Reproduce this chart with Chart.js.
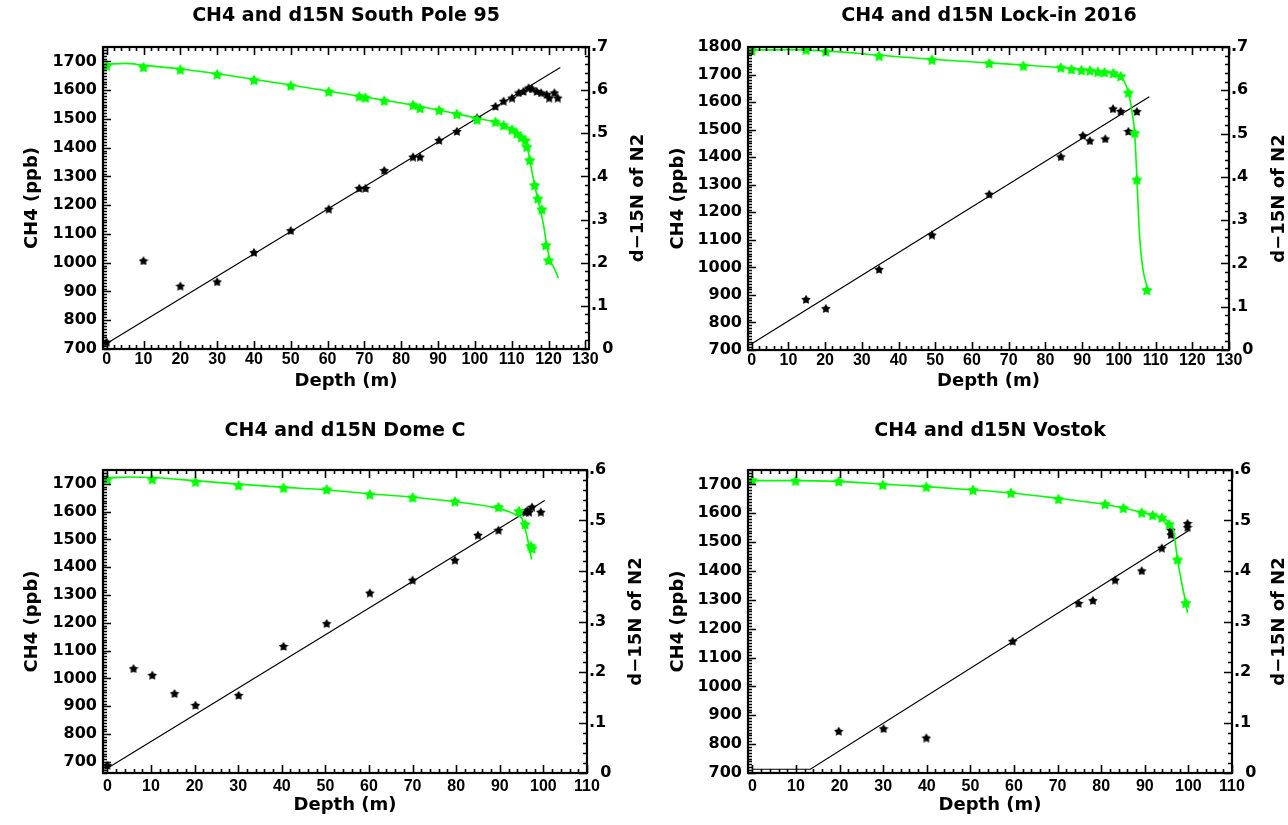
<!DOCTYPE html>
<html>
<head>
<meta charset="utf-8">
<script src="https://cdn.jsdelivr.net/npm/chart.js@4.4.1/dist/chart.umd.min.js"></script>
<style>
  body { margin: 0; background: #fff; width: 1288px; height: 825px; overflow: hidden; position: relative; }
  .panel { position: absolute; }
</style>
</head>
<body>
<div class="panel" style="left:0;top:0"><canvas id="c1" width="692" height="412"></canvas></div>
<div class="panel" style="left:644px;top:0"><canvas id="c2" width="690" height="412"></canvas></div>
<div class="panel" style="left:0;top:412px"><canvas id="c3" width="690" height="413"></canvas></div>
<div class="panel" style="left:644px;top:412px"><canvas id="c4" width="692" height="413"></canvas></div>
<script>
// tick labels
const depthTicks130 = [0, 10, 20, 30, 40, 50, 60, 70, 80, 90, 100, 110, 120, 130];
const depthTicks110 = [0, 10, 20, 30, 40, 50, 60, 70, 80, 90, 100, 110];
const ch4Ticks1700 = [700, 800, 900, 1000, 1100, 1200, 1300, 1400, 1500, 1600, 1700];
const ch4Ticks1800 = [700, 800, 900, 1000, 1100, 1200, 1300, 1400, 1500, 1600, 1700, 1800];
const d15Ticks07 = [0, 0.1, 0.2, 0.3, 0.4, 0.5, 0.6, 0.7];
const d15Ticks06 = [0, 0.1, 0.2, 0.3, 0.4, 0.5, 0.6];

// South Pole 95
const spModelDepth = [0, 5, 10, 20, 30, 40, 50, 60, 70, 80, 90, 100, 105, 108, 110, 112, 113.7, 114.3, 115, 116, 117, 118, 118.8, 119.5, 120.5, 121.5, 122.7];
const spModelN = [0.660, 0.662, 0.658, 0.649, 0.638, 0.625, 0.612, 0.598, 0.584, 0.570, 0.554, 0.536, 0.527, 0.518, 0.510, 0.495, 0.484, 0.465, 0.435, 0.390, 0.350, 0.315, 0.280, 0.240, 0.205, 0.188, 0.164];
const spDepthN = [0, 10, 20, 30, 40, 50, 60.3, 68.6, 70.3, 75.4, 83.2, 85.1, 90.3, 95.1, 100.6, 105.6, 107.8, 110.1, 111.4, 112.6, 113.7, 114.1, 114.9, 116.2, 117.1, 118.2, 119.3, 120];
const spN = [0.657, 0.654, 0.648, 0.637, 0.624, 0.611, 0.597, 0.586, 0.583, 0.576, 0.566, 0.559, 0.554, 0.545, 0.532, 0.527, 0.519, 0.509, 0.500, 0.491, 0.484, 0.469, 0.438, 0.380, 0.349, 0.324, 0.241, 0.206];
const spDepthCH4 = [0, 10, 20, 30, 40, 50, 60.3, 68.6, 70.3, 75.4, 83.2, 85.1, 90.3, 95.1, 100.6, 105.6, 107.8, 110.1, 111.9, 113.2, 114.6, 115.5, 116.8, 118, 119.5, 120.2, 121.6, 122.5];
const spCH4 = [725, 1008, 920, 935, 1037, 1113, 1188, 1260, 1260, 1322, 1369, 1369, 1427, 1458, 1505, 1545, 1563, 1574, 1592, 1597, 1609, 1606, 1597, 1592, 1586, 1574, 1592, 1574];
const spFitDepth = [0, 123.2];
const spFitCH4 = [719, 1679];

// Lock-in 2016
const liModelDepth = [0, 10, 20, 35, 50, 65, 75, 85, 92, 97, 100, 101.5, 102.6, 103.5, 104.3, 104.9, 105.6, 106.5, 107.9];
const liModelN = [0.693, 0.694, 0.691, 0.681, 0.671, 0.663, 0.658, 0.652, 0.647, 0.641, 0.634, 0.620, 0.595, 0.555, 0.502, 0.400, 0.270, 0.190, 0.140];
const liDepthN = [0, 14.8, 20.2, 34.7, 49.1, 64.7, 74, 84.2, 87.1, 89.8, 92.1, 94.3, 96.1, 98.5, 100.5, 102.6, 104.3, 104.9, 107.6];
const liN = [0.692, 0.694, 0.690, 0.680, 0.671, 0.663, 0.657, 0.653, 0.649, 0.647, 0.646, 0.643, 0.642, 0.640, 0.633, 0.595, 0.502, 0.394, 0.139];
const liDepthCH4 = [14.8, 20.2, 34.7, 49.1, 64.7, 84.2, 90.2, 92.1, 96.3, 98.4, 100.5, 102.6, 104.9];
const liCH4 = [885, 852, 994, 1119, 1267, 1403, 1480, 1461, 1468, 1577, 1568, 1495, 1567];
const liFitDepth = [0, 108.3];
const liFitCH4 = [723, 1619];

// Dome C
const dcModelDepth = [0, 5, 10, 20, 30, 40, 50, 60, 70, 80, 88, 92, 93.7, 95, 95.6, 96.2, 96.8, 97.3];
const dcModelN = [0.584, 0.586, 0.585, 0.579, 0.572, 0.566, 0.561, 0.553, 0.546, 0.537, 0.527, 0.518, 0.511, 0.505, 0.490, 0.470, 0.445, 0.423];
const dcDepthN = [0, 10.3, 20.2, 30.1, 40.4, 50.3, 60.2, 70, 79.7, 89.7, 94.4, 95.8, 97.1, 97.4];
const dcN = [0.582, 0.582, 0.577, 0.570, 0.565, 0.562, 0.552, 0.546, 0.538, 0.527, 0.519, 0.493, 0.450, 0.445];
const dcDepthCH4 = [0, 6.0, 10.3, 15.4, 20.2, 30.1, 40.4, 50.3, 60.2, 70, 79.7, 85, 89.7, 95.9, 96.3, 96.7, 97.4, 99.4];
const dcCH4 = [689, 1037, 1013, 947, 905, 941, 1117, 1199, 1309, 1355, 1427, 1517, 1535, 1600, 1605, 1600, 1618, 1600];
const dcFitDepth = [0, 100.3];
const dcFitCH4 = [677, 1640];

// Vostok
const vkModelDepth = [0, 10, 20, 30, 40, 50, 60, 70, 80, 90, 94, 96, 96.6, 97.5, 98.5, 99.4, 99.8];
const vkModelN = [0.579, 0.579, 0.577, 0.572, 0.567, 0.561, 0.554, 0.544, 0.533, 0.515, 0.505, 0.492, 0.480, 0.423, 0.375, 0.337, 0.317];
const vkDepthN = [0, 9.9, 19.8, 29.9, 39.9, 50.6, 59.3, 70.2, 80.9, 85.1, 89.3, 91.8, 93.9, 95.6, 97.5, 99.4];
const vkN = [0.580, 0.579, 0.578, 0.571, 0.567, 0.561, 0.555, 0.543, 0.533, 0.525, 0.516, 0.511, 0.506, 0.493, 0.423, 0.337];
const vkDepthCH4 = [19.8, 30.1, 39.9, 59.7, 74.8, 78.1, 83.2, 89.3, 93.9, 96, 96, 99.8, 99.8];
const vkCH4 = [846, 855, 823, 1158, 1289, 1299, 1370, 1402, 1481, 1543, 1527, 1566, 1553];
const vkFitDepth = [0, 13.3, 100.2];
const vkFitCH4 = [713, 713, 1541];

const GREEN = '#00ff00';
const BOLD = 'DejaVu Sans';

function starImage(size, color) {
  const c = document.createElement('canvas');
  c.width = size; c.height = size;
  const g = c.getContext('2d');
  g.fillStyle = color;
  g.beginPath();
  for (let i = 0; i < 10; i++) {
    const r = i % 2 ? size * 0.27 : size / 2;
    const a = -Math.PI / 2 + i * Math.PI / 5;
    const px = size / 2 + r * Math.cos(a), py = size / 2 + 0.7 + r * Math.sin(a);
    i ? g.lineTo(px, py) : g.moveTo(px, py);
  }
  g.closePath();
  g.fill();
  return c;
}
const greenStar = starImage(12, GREEN);
const blackStar = starImage(10, '#000');

const pts = (xs, ys) => xs.map((x, i) => ({ x: x, y: ys[i] }));

// IDL style box with inward ticks on all four sides
const frameTicks = {
  id: 'frameTicks',
  afterDatasetsDraw(chart, args, opts) {
    const { ctx, chartArea: a } = chart;
    ctx.save();
    ctx.strokeStyle = '#000';
    ctx.lineWidth = 1.6;
    const drawSide = (scale, minorN, sides) => {
      const vals = scale.ticks.map(t => t.value);
      const step = vals[1] - vals[0];
      const mstep = step / minorN;
      const list = [];
      vals.forEach(v => list.push([v, 8]));
      const start = Math.ceil(scale.min / mstep - 1e-6) * mstep;
      for (let v = start; v <= scale.max + 1e-9; v += mstep) {
        if (!vals.some(m => Math.abs(m - v) < mstep / 10)) list.push([v, 4]);
      }
      ctx.beginPath();
      list.forEach(([v, len]) => {
        const p = Math.round(scale.getPixelForValue(v)) + 0.5;
        sides.forEach(s => {
          if (s === 'bottom') { ctx.moveTo(p, a.bottom); ctx.lineTo(p, a.bottom - len); }
          if (s === 'top') { ctx.moveTo(p, a.top); ctx.lineTo(p, a.top + len); }
          if (s === 'left') { ctx.moveTo(a.left, p); ctx.lineTo(a.left + len, p); }
          if (s === 'right') { ctx.moveTo(a.right, p); ctx.lineTo(a.right - len, p); }
        });
      });
      ctx.stroke();
    };
    drawSide(chart.scales.x, 5, ['bottom', 'top']);
    drawSide(chart.scales.y, 10, ['left']);
    drawSide(chart.scales.y2, 5, ['right']);
    ctx.lineWidth = 2.2;
    ctx.strokeRect(a.left, a.top, a.right - a.left, a.bottom - a.top);
    // right axis title, reading bottom to top
    ctx.fillStyle = '#000';
    ctx.font = 'bold 18px ' + BOLD;
    ctx.textAlign = 'center';
    ctx.textBaseline = 'middle';
    ctx.translate(a.right + opts.rightTitleOffset, (a.top + a.bottom) / 2);
    ctx.rotate(-Math.PI / 2);
    ctx.fillText('d\u221215N of N2', 0, 0);
    ctx.restore();
  }
};

function makePanel(id, title, p, d) {
  const fixTicks = arr => s => { s.ticks = arr.map(v => ({ value: v })); };
  new Chart(document.getElementById(id), {
    type: 'scatter',
    data: {
      datasets: [
        { data: pts(d.modelX, d.modelY), yAxisID: 'y2', showLine: true, pointRadius: 0,
          borderColor: GREEN, borderWidth: 1.6, cubicInterpolationMode: 'monotone' },
        { data: pts(d.nX, d.nY), yAxisID: 'y2', pointStyle: greenStar, pointRadius: 5 },
        { data: pts(d.fitX, d.fitY), yAxisID: 'y', showLine: true, pointRadius: 0,
          borderColor: '#000', borderWidth: 1.2 },
        { data: pts(d.cX, d.cY), yAxisID: 'y', pointStyle: blackStar, pointRadius: 5 }
      ]
    },
    options: {
      responsive: false,
      animation: false,
      layout: { padding: 0 },
      plugins: {
        legend: { display: false },
        tooltip: { enabled: false },
        title: {
          display: true, text: title, color: '#000',
          font: { family: BOLD, size: 19, weight: 'bold' },
          padding: { top: p.titleTop, bottom: p.top - 22.8 - p.titleTop }
        },
        frameTicks: { rightTitleOffset: p.rightTitle }
      },
      scales: {
        x: {
          type: 'linear', min: d.xMin, max: d.xMax,
          afterBuildTicks: fixTicks(d.xTicks),
          afterFit: s => { s.height = p.h - p.bottom; },
          grid: { display: false, drawTicks: false }, border: { display: false },
          ticks: { color: '#000', autoSkip: false, maxRotation: 0, minRotation: 0, padding: p.xPad,
                   font: { family: 'Liberation Sans', size: 16, weight: 'bold' },
                   callback: v => String(v) },
          title: { display: true, text: 'Depth (m)', color: '#000',
                   font: { family: BOLD, size: 18, weight: 'bold' }, padding: { top: 0, bottom: p.xTitle } }
        },
        y: {
          type: 'linear', position: 'left', min: d.yMin, max: d.yMax,
          afterBuildTicks: fixTicks(d.yTicks),
          afterFit: s => { s.width = p.left; },
          grid: { display: false, drawTicks: false }, border: { display: false },
          ticks: { color: '#000', autoSkip: false, padding: 6,
                   font: { family: BOLD, size: 16, weight: 'bold' },
                   callback: v => String(v) },
          title: { display: true, text: 'CH4 (ppb)', color: '#000',
                   font: { family: BOLD, size: 18, weight: 'bold' }, padding: { top: p.yTitle, bottom: 0 } }
        },
        y2: {
          type: 'linear', position: 'right', min: 0, max: d.y2Max,
          afterBuildTicks: fixTicks(d.y2Ticks),
          afterFit: s => { s.width = p.w - p.right; },
          grid: { display: false, drawTicks: false }, border: { display: false },
          ticks: { color: '#000', autoSkip: false, padding: 2,
                   font: { family: BOLD, size: 16, weight: 'bold' },
                   callback: v => v === 0 ? '  0' : String(v).replace('0.', '.') }
        }
      }
    },
    plugins: [frameTicks]
  });
}

makePanel('c1', 'CH4 and d15N South Pole 95',
  { w: 692, h: 412, left: 103, right: 589, top: 47, bottom: 349, titleTop: 5, xPad: 1, xTitle: 20, yTitle: 22, rightTitle: 49 },
  { xMin: -1, xMax: 131, yMin: 700, yMax: 1750, y2Max: 0.7, xTicks: depthTicks130, yTicks: ch4Ticks1700, y2Ticks: d15Ticks07,
    modelX: spModelDepth, modelY: spModelN, nX: spDepthN, nY: spN, cX: spDepthCH4, cY: spCH4, fitX: spFitDepth, fitY: spFitCH4 });

makePanel('c2', 'CH4 and d15N Lock-in 2016',
  { w: 690, h: 412, left: 104, right: 585, top: 47, bottom: 350, titleTop: 5, xPad: 1, xTitle: 20, yTitle: 24, rightTitle: 50 },
  { xMin: -1, xMax: 130, yMin: 700, yMax: 1800, y2Max: 0.7, xTicks: depthTicks130, yTicks: ch4Ticks1800, y2Ticks: d15Ticks07,
    modelX: liModelDepth, modelY: liModelN, nX: liDepthN, nY: liN, cX: liDepthCH4, cY: liCH4, fitX: liFitDepth, fitY: liFitCH4 });

makePanel('c3', 'CH4 and d15N Dome C',
  { w: 690, h: 413, left: 103, right: 587, top: 58, bottom: 361, titleTop: 7.6, xPad: 4, xTitle: 9, yTitle: 22, rightTitle: 49 },
  { xMin: -1, xMax: 110, yMin: 660, yMax: 1750, y2Max: 0.6, xTicks: depthTicks110, yTicks: ch4Ticks1700, y2Ticks: d15Ticks06,
    modelX: dcModelDepth, modelY: dcModelN, nX: dcDepthN, nY: dcN, cX: dcDepthCH4, cY: dcCH4, fitX: dcFitDepth, fitY: dcFitCH4 });

makePanel('c4', 'CH4 and d15N Vostok',
  { w: 692, h: 413, left: 104, right: 588, top: 58, bottom: 361, titleTop: 7.6, xPad: 4, xTitle: 9, yTitle: 24, rightTitle: 47 },
  { xMin: -1, xMax: 110, yMin: 700, yMax: 1750, y2Max: 0.6, xTicks: depthTicks110, yTicks: ch4Ticks1700, y2Ticks: d15Ticks06,
    modelX: vkModelDepth, modelY: vkModelN, nX: vkDepthN, nY: vkN, cX: vkDepthCH4, cY: vkCH4, fitX: vkFitDepth, fitY: vkFitCH4 });
</script>
</body>
</html>
